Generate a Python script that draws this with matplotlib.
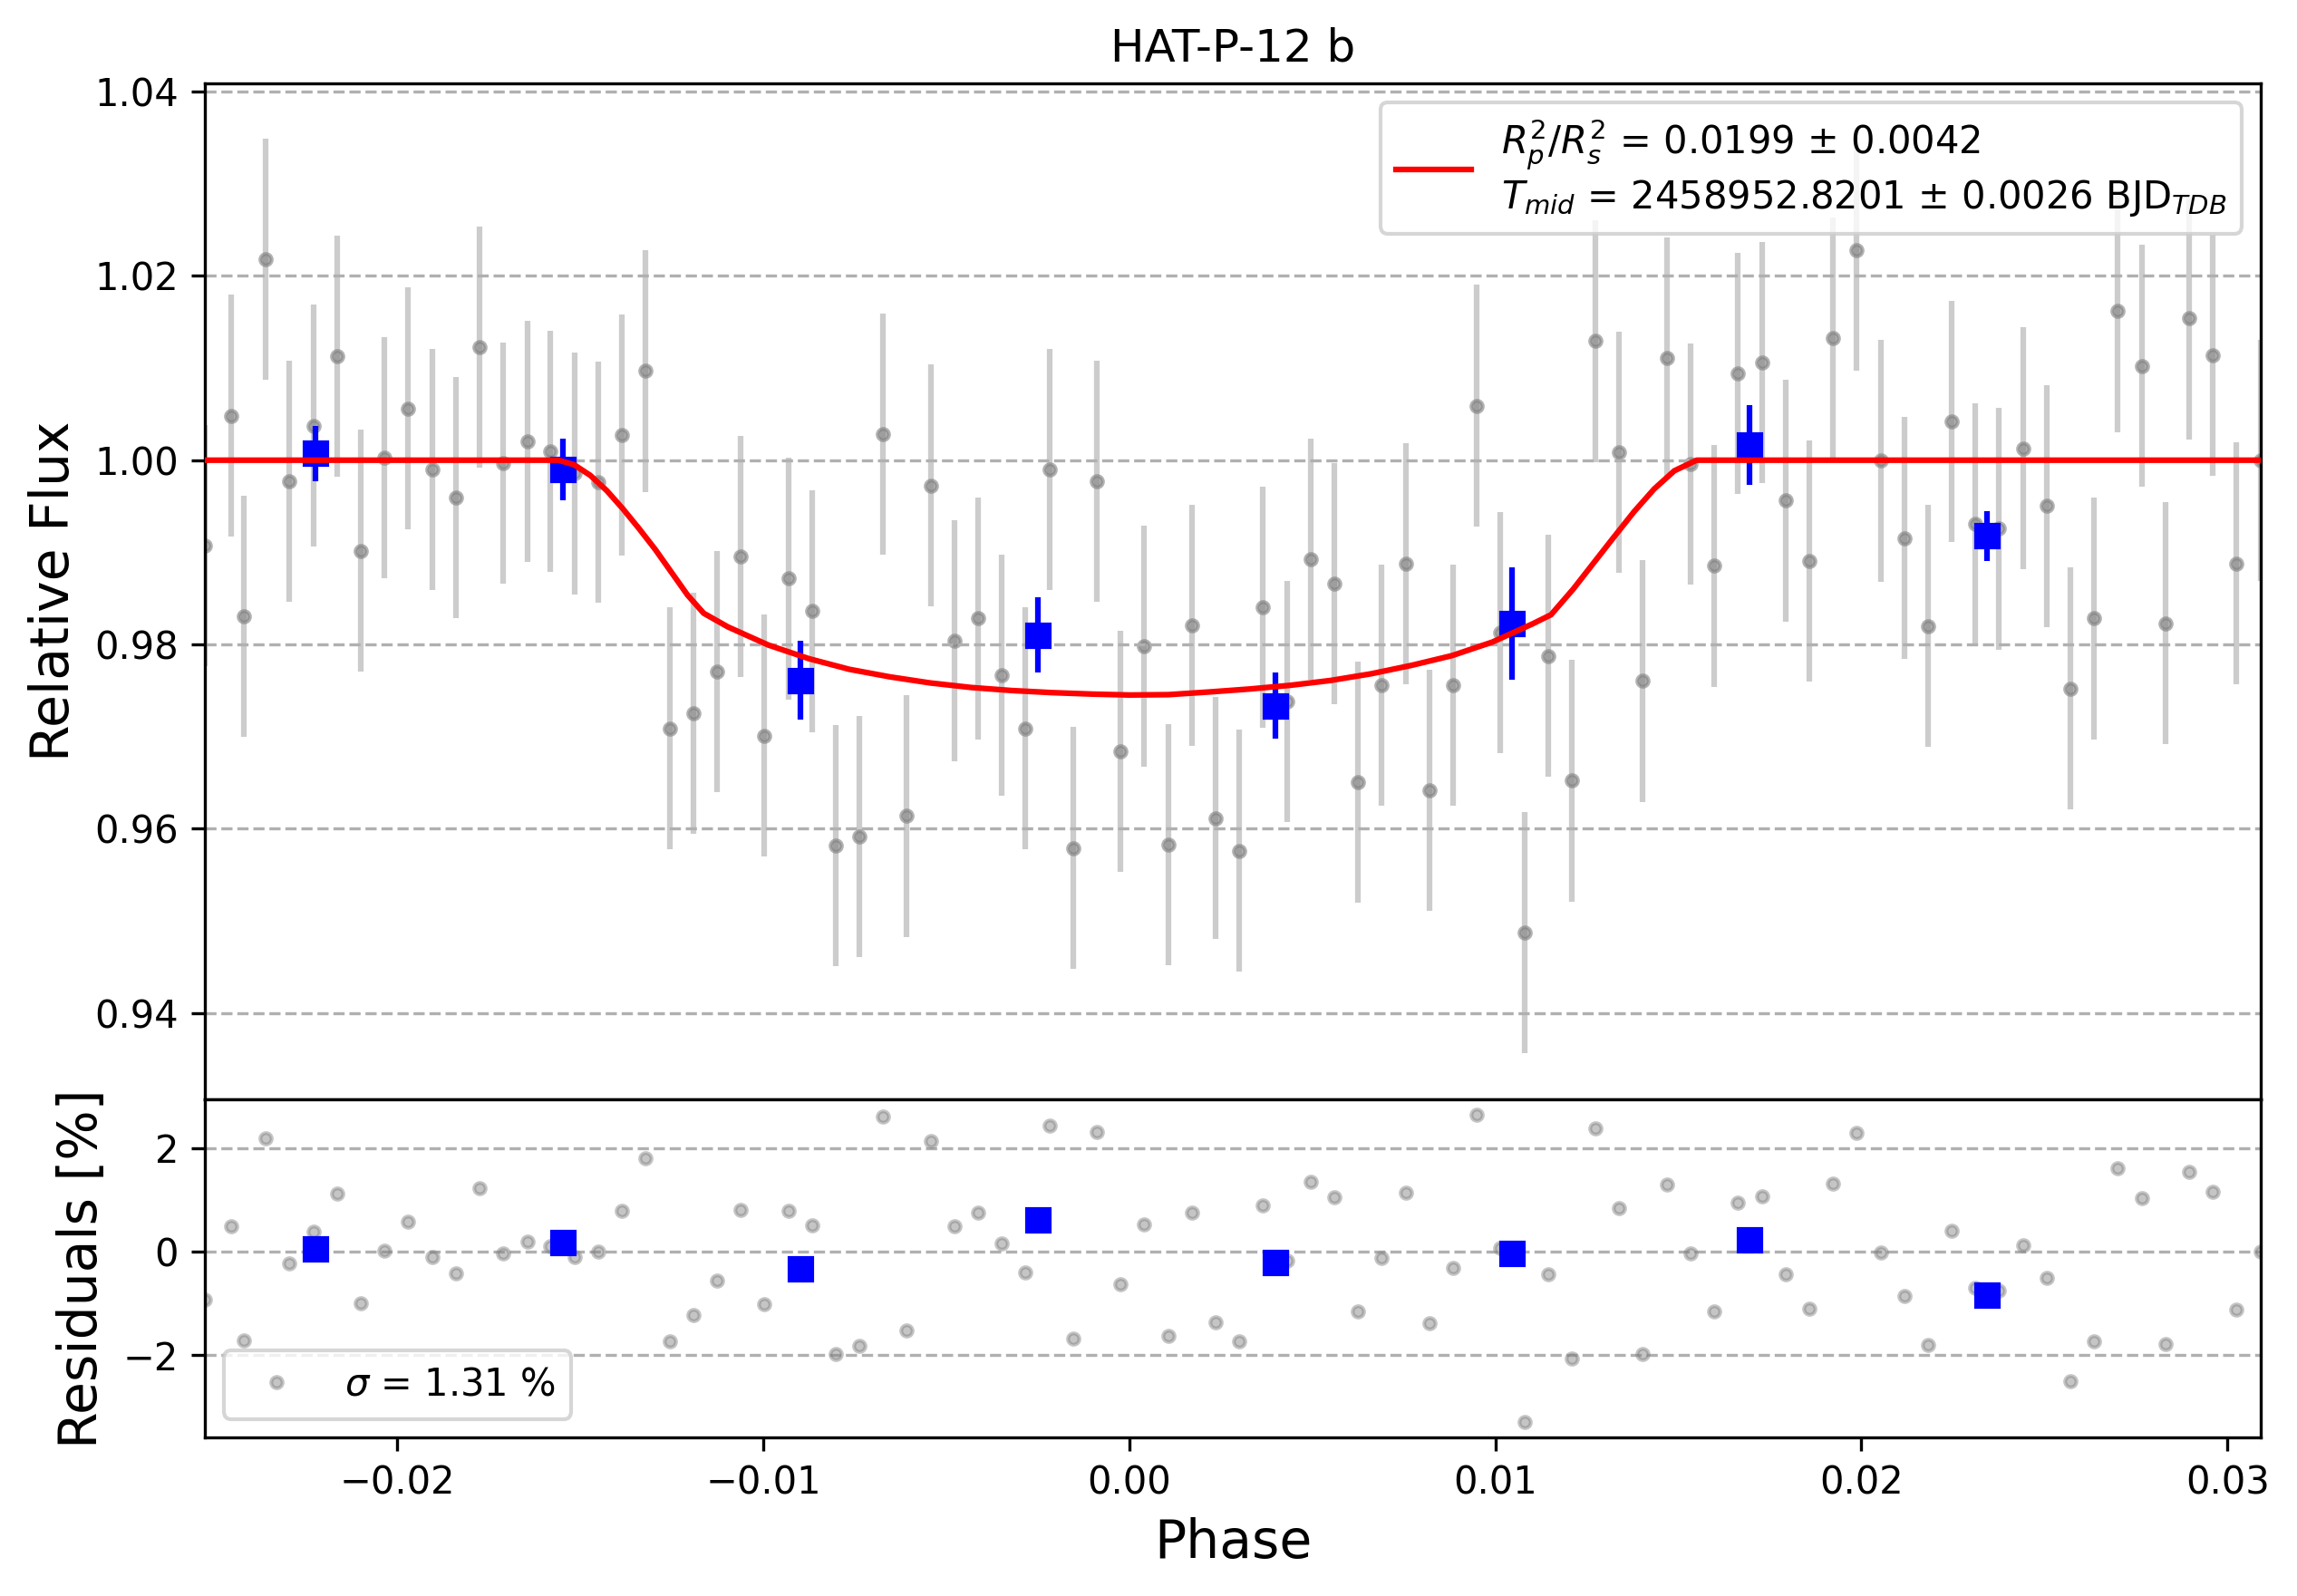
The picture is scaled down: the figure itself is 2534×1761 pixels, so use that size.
import matplotlib
matplotlib.use("Agg")
import matplotlib.pyplot as plt

# light curve, phase folded
phase = [-0.02525, -0.02453, -0.02420, -0.02360, -0.02295, -0.02228, -0.02165, -0.02100,
         -0.02036, -0.01970, -0.01904, -0.01840, -0.01775, -0.01711, -0.01645, -0.01581,
         -0.01516, -0.01452, -0.01386, -0.01322, -0.01256, -0.01191, -0.01127, -0.01063,
         -0.00998, -0.00931, -0.00867, -0.00802, -0.00738, -0.00673, -0.00609, -0.00543,
         -0.00478, -0.00413, -0.00349, -0.00285, -0.00217, -0.00153, -0.00090, -0.00024,
         0.00040, 0.00107, 0.00172, 0.00236, 0.00299, 0.00364, 0.00431, 0.00495,
         0.00559, 0.00625, 0.00690, 0.00755, 0.00820, 0.00884, 0.00949, 0.01013,
         0.01080, 0.01145, 0.01209, 0.01273, 0.01338, 0.01402, 0.01469, 0.01533,
         0.01597, 0.01662, 0.01729, 0.01793, 0.01857, 0.01922, 0.01986, 0.02053,
         0.02117, 0.02182, 0.02246, 0.02311, 0.02375, 0.02442, 0.02506, 0.02571,
         0.02635, 0.02699, 0.02766, 0.02831, 0.02895, 0.02959, 0.03024, 0.03091]
flux = [0.99076, 1.00484, 0.98303, 1.02181, 0.99769, 1.00375, 1.01126, 0.99018,
        1.00029, 1.00563, 0.99899, 0.99596, 1.01227, 0.99971, 1.00202, 1.00094,
        0.99856, 0.99762, 1.00274, 1.00968, 0.97090, 0.97256, 0.97704, 0.98953,
        0.97011, 0.98715, 0.98361, 0.95819, 0.95913, 1.00282, 0.96137, 0.99726,
        0.98043, 0.98282, 0.97668, 0.97090, 0.99899, 0.95791, 0.99769, 0.96838,
        0.97978, 0.95827, 0.98209, 0.96116, 0.95762, 0.98404, 0.97379, 0.98924,
        0.98657, 0.96505, 0.97560, 0.98874, 0.96419, 0.97560, 1.00592, 0.98130,
        0.94874, 0.97877, 0.96520, 1.01292, 1.00087, 0.97603, 1.01105, 0.99957,
        0.98852, 1.00939, 1.01061, 0.99560, 0.98903, 1.01321, 1.02282, 0.99993,
        0.99155, 0.98202, 1.00419, 0.99307, 0.99256, 1.00130, 0.99502, 0.97523,
        0.98282, 1.01617, 1.01025, 0.98231, 1.01538, 1.01141, 0.98881, 1.00000]
flux_err = 0.0131
residuals = [-0.93, 0.49, -1.72, 2.19, -0.23, 0.38, 1.12, -1.00,
             0.02, 0.58, -0.10, -0.42, 1.22, -0.04, 0.19, 0.10,
             -0.11, 0.00, 0.78, 1.80, -1.74, -1.23, -0.56, 0.81,
             -1.02, 0.78, 0.51, -1.98, -1.82, 2.61, -1.52, 2.14,
             0.49, 0.75, 0.16, -0.41, 2.43, -1.69, 2.31, -0.63,
             0.52, -1.63, 0.75, -1.37, -1.74, 0.89, -0.18, 1.35,
             1.05, -1.15, -0.13, 1.13, -1.39, -0.32, 2.64, 0.07,
             -3.30, -0.43, -2.06, 2.39, 0.84, -1.98, 1.29, -0.04,
             -1.16, 0.94, 1.07, -0.44, -1.11, 1.32, 2.29, -0.02,
             -0.86, -1.80, 0.41, -0.70, -0.75, 0.12, -0.51, -2.51,
             -1.74, 1.62, 1.03, -1.79, 1.54, 1.15, -1.12, 0.00]

# binned points
bin_phase = [-0.02223, -0.01547, -0.00899, -0.00249, 0.00399, 0.01045, 0.01695, 0.02343]
bin_flux = [1.00072, 0.99899, 0.97610, 0.98101, 0.97336, 0.98224, 1.00166, 0.99177]
bin_err = [0.0030, 0.0033, 0.0043, 0.0041, 0.0036, 0.0061, 0.0043, 0.0027]
bin_resid = [0.06, 0.17, -0.34, 0.61, -0.21, -0.04, 0.23, -0.85]

# transit model curve
model_phase = [-0.02525, -0.01560, -0.01517, -0.01473, -0.01428, -0.01384, -0.01340, -0.01295,
               -0.01251, -0.01207, -0.01163, -0.01097, -0.00986, -0.00875, -0.00765, -0.00654,
               -0.00544, -0.00433, -0.00323, -0.00212, -0.00102, 0.00000, 0.00107, 0.00218,
               0.00328, 0.00439, 0.00550, 0.00660, 0.00771, 0.00881, 0.00992, 0.01102,
               0.01152, 0.01213, 0.01268, 0.01323, 0.01379, 0.01434, 0.01489, 0.01550, 0.03091]
model_flux = [1.0, 1.0, 0.99951, 0.99836, 0.99671, 0.99474, 0.99260, 0.99030,
              0.98783, 0.98536, 0.98339, 0.98191, 0.97993, 0.97845, 0.97730, 0.97648,
              0.97582, 0.97533, 0.97500, 0.97477, 0.97461, 0.97451, 0.97455, 0.97484,
              0.97516, 0.97556, 0.97609, 0.97681, 0.97773, 0.97878, 0.98026, 0.98224,
              0.98322, 0.98602, 0.98882, 0.99161, 0.99441, 0.99688, 0.99885, 1.0, 1.0]

fit_label = (r"$R^2_p/R^2_s$ = 0.0199 ± 0.0042" + "\n"
             + r"$T_{mid}$ = 2458952.8201 ± 0.0026 BJD$_{TDB}$")

fig = plt.figure(figsize=(2534 / 300, 1761 / 300), dpi=300)
ax_lc = fig.add_axes([0.0893, 0.31107, 0.8949, 0.63668])
ax_res = fig.add_axes([0.0893, 0.09915, 0.8949, 0.21192])

# gray data: bars and markers
ax_lc.errorbar(phase, flux, yerr=flux_err, ls='none', color='gray', alpha=0.4, zorder=1)
ax_lc.plot(phase, flux, 'o', markersize=3, color='gray', alpha=0.6, zorder=1)
ax_lc.errorbar(bin_phase, bin_flux, yerr=bin_err, fmt='s', color='blue', zorder=2)
ax_lc.plot(model_phase, model_flux, 'r-', lw=1.5, zorder=3, label=fit_label,
           solid_joinstyle='round')
ax_lc.set_xlim(min(phase), max(phase))
ax_lc.set_ylim(0.9306, 1.0409)
ax_lc.set_xticks([])
ax_lc.grid(True, axis='y', ls='--')
ax_lc.set_ylabel('Relative Flux', fontsize=14)
ax_lc.set_title('HAT-P-12 b')
ax_lc.legend(loc='upper right')

ax_res.plot(phase, residuals, 'o', color='gray', markersize=3, alpha=0.45,
            label=r'$\sigma$ = 1.31 %')
ax_res.plot(bin_phase, bin_resid, 's', color='blue', zorder=2)
ax_res.set_xlim(min(phase), max(phase))
ax_res.set_ylim(-3.6, 2.94)
ax_res.grid(True, axis='y', ls='--')
ax_res.set_ylabel('Residuals [%]', fontsize=14)
ax_res.set_xlabel('Phase', fontsize=14)
ax_res.legend(loc='lower left')

fig.savefig('out.png', dpi=300)
